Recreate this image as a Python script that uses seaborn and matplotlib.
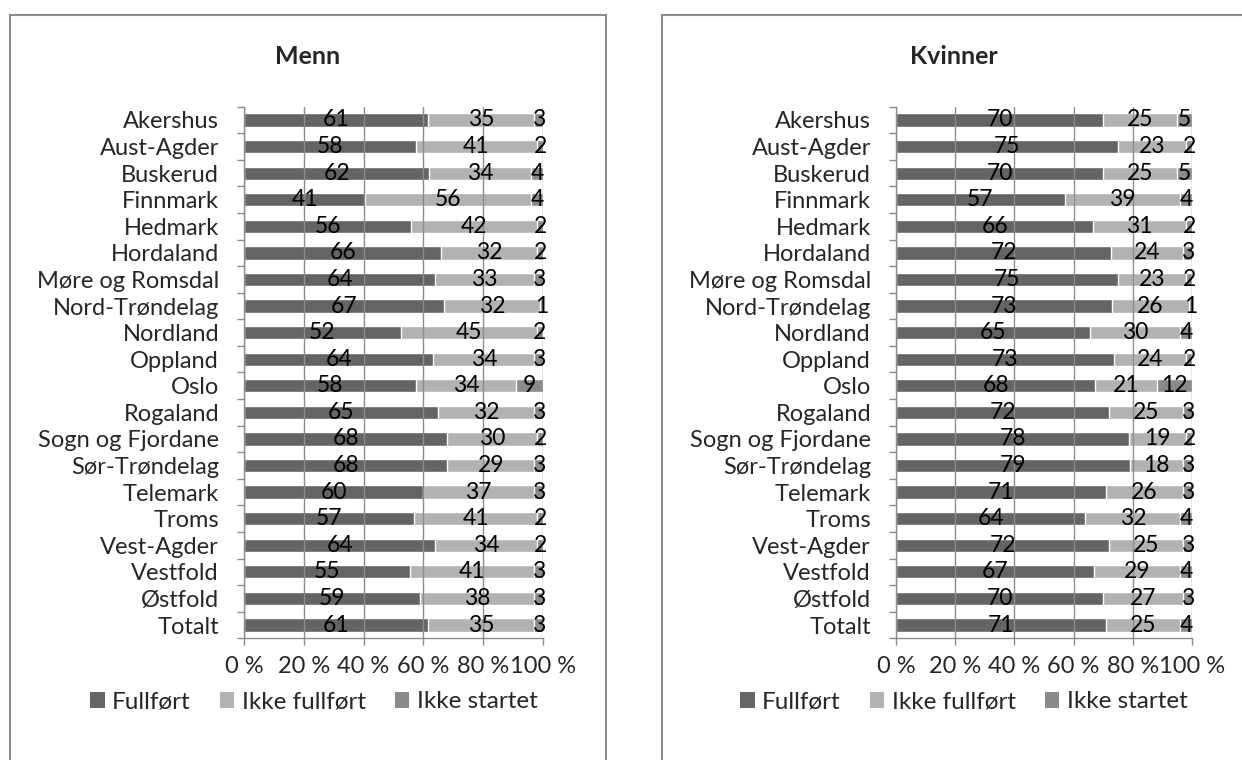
import numpy as np
import matplotlib
matplotlib.use('Agg')
import matplotlib.pyplot as plt
import seaborn as sns
from matplotlib.patches import Rectangle, Patch
from matplotlib.ticker import FixedLocator

regions = ['Akershus', 'Aust-Agder', 'Buskerud', 'Finnmark', 'Hedmark', 'Hordaland',
           'Møre og Romsdal', 'Nord-Trøndelag', 'Nordland', 'Oppland', 'Oslo', 'Rogaland',
           'Sogn og Fjordane', 'Sør-Trøndelag', 'Telemark', 'Troms', 'Vest-Agder',
           'Vestfold', 'Østfold', 'Totalt']

menn_fullfort = [61, 58, 62, 41, 56, 66, 64, 67, 52, 64, 58, 65, 68, 68, 60, 57, 64, 55, 59, 61]
menn_ikke_fullfort = [35, 41, 34, 56, 42, 32, 33, 32, 45, 34, 34, 32, 30, 29, 37, 41, 34, 41, 38, 35]
menn_ikke_startet = [3, 2, 4, 4, 2, 2, 3, 1, 2, 3, 9, 3, 2, 3, 3, 2, 2, 3, 3, 3]

kvinner_fullfort = [70, 75, 70, 57, 66, 72, 75, 73, 65, 73, 68, 72, 78, 79, 71, 64, 72, 67, 70, 71]
kvinner_ikke_fullfort = [25, 23, 25, 39, 31, 24, 23, 26, 30, 24, 21, 25, 19, 18, 26, 32, 25, 29, 27, 25]
kvinner_ikke_startet = [5, 2, 5, 4, 2, 3, 2, 1, 4, 2, 12, 3, 2, 3, 3, 4, 3, 4, 3, 4]

series_names = ['Fullført', 'Ikke fullført', 'Ikke startet']
colors = ['#646464', '#b2b2b4', '#8a8a8c']
grid_color = '#8c8c8c'
fs = 17

sns.set_theme(style='white')
plt.rcParams['font.family'] = ['Lato', 'DejaVu Sans']

fig = plt.figure(figsize=(12.42, 7.6), dpi=100)
W, H = 1242.0, 760.0

# panel frames
fig.patches.append(Rectangle((10 / W, -0.05), (606 - 10) / W, 1.05 - 15 / H,
                             transform=fig.transFigure, fill=False,
                             edgecolor='#8c8c8c', lw=1.5))
fig.patches.append(Rectangle((662 / W, -0.05), 0.5, 1.05 - 15 / H,
                             transform=fig.transFigure, fill=False,
                             edgecolor='#8c8c8c', lw=1.5))


def draw_panel(ax, title, title_x, full, ikke_full, ikke_start):
    full = np.array(full, dtype=float)
    ikke_full = np.array(ikke_full, dtype=float)
    ikke_start = np.array(ikke_start, dtype=float)
    tot = full + ikke_full + ikke_start
    p_full = full / tot * 100
    p_ikke = ikke_full / tot * 100
    # stacked by overlapping cumulative bars
    sns.barplot(x=np.full(len(regions), 100.0), y=regions, orient='h',
                color=colors[2], width=0.5, saturation=1, ax=ax)
    sns.barplot(x=p_full + p_ikke, y=regions, orient='h',
                color=colors[1], width=0.5, saturation=1, ax=ax)
    sns.barplot(x=p_full, y=regions, orient='h',
                color=colors[0], width=0.5, saturation=1, ax=ax)
    for i in range(len(regions)):
        centers = [p_full[i] / 2, p_full[i] + p_ikke[i] / 2,
                   p_full[i] + p_ikke[i] + (100 - p_full[i] - p_ikke[i]) / 2]
        for c, v in zip(centers, [full[i], ikke_full[i], ikke_start[i]]):
            ax.text(c, i, f'{int(v)}', ha='center', va='center',
                    fontsize=16.5, color='black', zorder=5)
    ax.set_xlim(0, 100)
    ax.set_ylim(len(regions) - 0.5, -0.5)
    ax.set_xticks([0, 20, 40, 60, 80, 100])
    ax.set_xticklabels(['0 %', '20 %', '40 %', '60 %', '80 %', '100 %'], fontsize=fs)
    ax.set_yticks(range(len(regions)))
    ax.set_yticklabels(regions, fontsize=fs)
    ax.yaxis.set_minor_locator(FixedLocator(np.arange(-0.5, len(regions), 1)))
    ax.tick_params(axis='y', which='major', length=0, pad=18)
    ax.tick_params(axis='y', which='minor', left=True, length=5, color=grid_color, width=1)
    ax.tick_params(axis='x', which='major', bottom=True, length=5, color=grid_color,
                   width=1, pad=8)
    ax.set_xlabel('')
    ax.set_ylabel('')
    ax.grid(axis='x', color=grid_color, lw=1)
    ax.set_axisbelow(False)
    for side in ['top', 'right']:
        ax.spines[side].set_visible(False)
    for side in ['left', 'bottom']:
        ax.spines[side].set_color(grid_color)
        ax.spines[side].set_linewidth(1)
    fig.text(title_x, 1 - 57 / H, title, ha='center', va='center',
             fontsize=18, fontweight='bold')


ax1 = fig.add_axes([244 / W, 1 - 638.3 / H, 299 / W, (638.3 - 106.7) / H])
ax2 = fig.add_axes([896 / W, 1 - 638.3 / H, 296 / W, (638.3 - 106.7) / H])

draw_panel(ax1, 'Menn', 308 / W, menn_fullfort, menn_ikke_fullfort, menn_ikke_startet)
draw_panel(ax2, 'Kvinner', 954 / W, kvinner_fullfort, kvinner_ikke_fullfort, kvinner_ikke_startet)

handles = [Patch(facecolor=c, edgecolor='none') for c in colors]
for x0 in [90 / W, 740 / W]:
    fig.legend(handles, series_names, loc='center left', bbox_to_anchor=(x0, 1 - 702 / H),
               ncol=3, frameon=False, fontsize=17.5, handlelength=0.6, handleheight=0.6,
               handletextpad=0.3, columnspacing=1.2, borderaxespad=0, borderpad=0)

fig.savefig('out.png', dpi=100)
